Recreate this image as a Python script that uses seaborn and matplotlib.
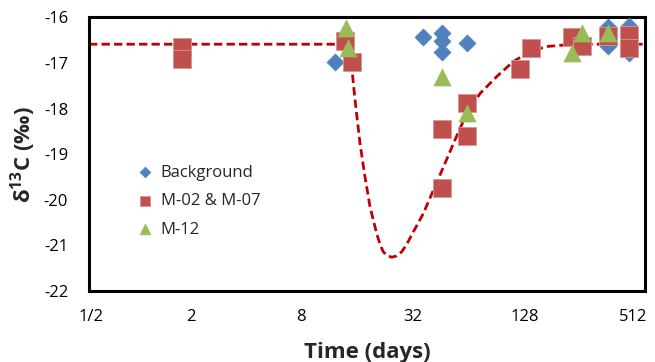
import numpy as np
import pandas as pd
import matplotlib
matplotlib.use("Agg")
import matplotlib.pyplot as plt
import matplotlib.transforms as mtrans
import seaborn as sns

# ---- data ----
bg_t = [10.7, 32.2, 40.8, 40.8, 40.8, 55.4, 324, 324, 421, 421]
bg_y = [-16.98, -16.43, -16.35, -16.53, -16.75, -16.56, -16.21, -16.63, -16.19, -16.78]

m27_t = [1.6, 1.6, 12.1, 13.2, 40.8, 40.8, 55.4, 55.4, 107.6, 123, 205, 232, 324, 421, 421]
m27_y = [-16.66, -16.92, -16.51, -16.97, -18.45, -19.75, -17.87, -18.60, -17.14, -16.67,
         -16.43, -16.63, -16.40, -16.39, -16.68]

m12_t = [12.3, 12.6, 40.8, 55.4, 205, 232, 324]
m12_y = [-16.24, -16.68, -17.30, -18.09, -16.78, -16.35, -16.35]

curve_t = [0.5, 12.16, 13.22, 13.78, 14.66, 15.61, 16.61, 18.05, 18.8, 19.60, 20.45, 21.77,
           23.17, 24.66, 26.24, 27.93, 32.3, 36.6, 42.3, 47.9, 55.4, 65.5, 80.6, 99.1,
           122.1, 150.3, 185, 280, 512]
curve_y = [-16.59, -16.59, -17.08, -17.81, -18.76, -19.50, -20.15, -20.74, -20.97, -21.14,
           -21.22, -21.26, -21.23, -21.14, -20.98, -20.77, -20.30, -19.79, -19.20, -18.69,
           -18.11, -17.67, -17.30, -16.97, -16.75, -16.64, -16.61, -16.59, -16.59]

xticks = [0.5, 2, 8, 32, 128, 512]
xticklabels = ["1/2", "2", "8", "32", "128", "512"]
yticks = [-22, -21, -20, -19, -18, -17, -16]

sns.set_style("white")
plt.rcParams["font.family"] = ["Open Sans", "DejaVu Sans"]
plt.rcParams["mathtext.fontset"] = "custom"
plt.rcParams["mathtext.bf"] = "Open Sans:bold"
plt.rcParams["mathtext.rm"] = "Open Sans"

fig = plt.figure(figsize=(6.55, 3.62), dpi=100)
ax = fig.add_axes([89 / 655, 1 - 291 / 362, (645 - 89) / 655, (291 - 17.3) / 362])

blue = "#4F81BD"
red = "#C0504D"
green = "#9BBB59"

sns.lineplot(x=curve_t, y=curve_y, ax=ax, color="#C00000", lw=2.0, sort=False,
             dashes=False, zorder=1)
ax.lines[-1].set_dashes((3, 1.5))

sns.scatterplot(x=bg_t, y=bg_y, ax=ax, marker="D", s=75, color=blue, edgecolor=blue,
                linewidth=0.5, label="Background", zorder=3)
sns.scatterplot(x=m27_t, y=m27_y, ax=ax, marker="s", s=150, color=red, edgecolor="#D99694",
                linewidth=0.6, label="M-02 & M-07", zorder=4)
sns.scatterplot(x=m12_t, y=m12_y, ax=ax, marker="^", s=150, color=green, edgecolor=green,
                linewidth=0.5, label="M-12", zorder=5)

ax.set_xscale("log", base=2)
ax.set_xlim(0.5, 512)
ax.set_ylim(-22, -16)
ax.set_xticks(xticks)
ax.set_xticklabels(xticklabels)
ax.minorticks_off()
ax.set_yticks(yticks)
ax.set_yticklabels([str(v) for v in yticks])
ax.tick_params(axis="both", direction="in", length=6, width=2, labelsize=12,
               colors="black")
ax.tick_params(axis="x", pad=13)
ax.tick_params(axis="y", pad=15)
for sp in ax.spines.values():
    sp.set_linewidth(2.2)
    sp.set_color("black")

ax.set_xlabel("Time (days)", fontsize=16, fontweight="bold")
ax.xaxis.set_label_coords(0.5, -0.225)
ax.xaxis.label.set_va("center")
ax.set_ylabel(r"δ$^{\mathbf{13}}$C (‰)", fontsize=16, fontweight="bold")
ax.yaxis.set_label_coords(-0.119, 0.5)
ax.yaxis.label.set_va("center")

# Excel places the category labels slightly left of the tick marks
label_dx_px = [2.5, -9, -10, -10, -9, -12]
for lab, dx in zip(ax.get_xticklabels(), label_dx_px):
    lab.set_transform(lab.get_transform() +
                      mtrans.ScaledTranslation(dx / 100, 0, fig.dpi_scale_trans))

leg = ax.legend(loc="upper left", bbox_to_anchor=((136.7 - 89) / 556, 0.462),
                frameon=False, fontsize=12, markerscale=0.63, handlelength=1.0,
                handletextpad=0.45, labelspacing=0.75, borderpad=0, borderaxespad=0)

fig.savefig("out.png", dpi=100)
